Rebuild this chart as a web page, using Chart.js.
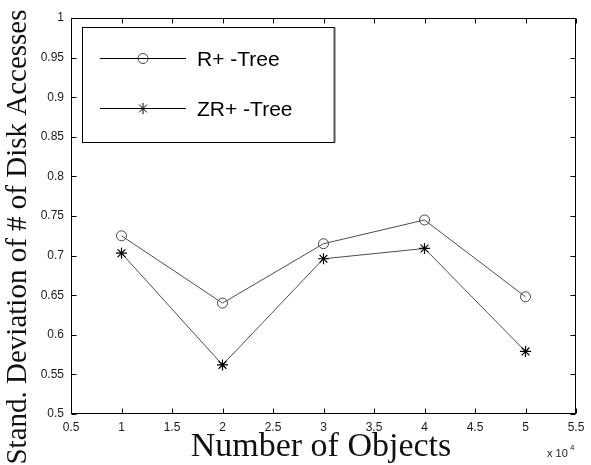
<!DOCTYPE html>
<html>
<head>
<meta charset="utf-8">
<script src="https://cdn.jsdelivr.net/npm/chart.js@4/dist/chart.umd.min.js"></script>
<style>
  html, body { margin: 0; padding: 0; background: #ffffff; }
  #wrap { width: 591px; height: 465px; }
</style>
</head>
<body>
<div id="wrap"><canvas id="c" width="591" height="465"></canvas></div>
<script>
// Number of objects, in units of 10^4
const objects = [1, 2, 3, 4, 5];
// Standard deviation of the number of disk accesses
const rPlusTree = [0.725, 0.640, 0.715, 0.745, 0.648];
const zrPlusTree = [0.703, 0.562, 0.696, 0.709, 0.579];

const seriesNames = ['R+ -Tree', 'ZR+ -Tree'];
const xTitle = 'Number of Objects';
const yTitle = 'Stand. Deviation of # of Disk Accesses';
const xRange = { min: 0.5, max: 5.5, step: 0.5 };
const yRange = { min: 0.5, max: 1.0, step: 0.05 };

const lineColor = '#4d4d4d';
const sansFont = '"Liberation Sans", Arial, sans-serif';
const serifFont = '"Liberation Serif", "Times New Roman", serif';

const toPoints = (xs, ys) => xs.map((x, i) => ({ x: x, y: ys[i] }));
const fmt = v => String(Number(v.toFixed(2)));

// Axes box with inward ticks on all four sides, legend, titles and exponent
const framePlugin = {
  id: 'frame',
  afterDraw(chart) {
    const ctx = chart.ctx;
    const a = chart.chartArea;
    const xs = chart.scales.x, ys = chart.scales.y;
    const L = Math.round(a.left) + 0.5, R = Math.round(a.right) - 0.5;
    const T = Math.round(a.top) + 0.5, B = Math.round(a.bottom) - 0.5;
    const tl = 5;
    ctx.save();
    ctx.strokeStyle = '#000';
    ctx.lineWidth = 1;
    ctx.strokeRect(L, T, R - L, B - T);
    ctx.beginPath();
    xs.ticks.forEach(t => {
      const px = Math.round(xs.getPixelForValue(t.value)) + 0.5;
      ctx.moveTo(px, B); ctx.lineTo(px, B - tl);
      ctx.moveTo(px, T); ctx.lineTo(px, T + tl);
    });
    ys.ticks.forEach(t => {
      const py = Math.round(ys.getPixelForValue(t.value)) + 0.5;
      ctx.moveTo(L, py); ctx.lineTo(L + tl, py);
      ctx.moveTo(R, py); ctx.lineTo(R - tl, py);
    });
    ctx.stroke();

    // Legend box
    const lx = 82.5, ly = 27.5, lw = 252, lh = 115;
    ctx.fillStyle = '#fff';
    ctx.fillRect(lx, ly, lw, lh);
    ctx.strokeStyle = '#000';
    ctx.strokeRect(lx, ly, lw, lh);
    ctx.strokeStyle = '#555';
    ctx.lineWidth = 2;
    ctx.beginPath(); ctx.moveTo(lx + lw, ly); ctx.lineTo(lx + lw, ly + lh); ctx.stroke();

    const rows = [58, 108];
    chart.data.datasets.forEach((ds, i) => {
      const y = rows[i] + 0.5;
      ctx.strokeStyle = '#000';
      ctx.lineWidth = 1;
      ctx.beginPath(); ctx.moveTo(100, y); ctx.lineTo(186, y); ctx.stroke();
      const opts = {
        pointStyle: ds.pointStyle, radius: ds.pointRadius, rotation: 0,
        borderWidth: 1
      };
      ctx.strokeStyle = ds.pointBorderColor;
      ctx.fillStyle = 'rgba(0,0,0,0)';
      if (Chart.helpers && Chart.helpers.drawPoint) {
        Chart.helpers.drawPoint(ctx, opts, 143, y);
      }
      ctx.fillStyle = '#000';
      ctx.font = '21px ' + sansFont;
      ctx.textBaseline = 'middle';
      ctx.textAlign = 'left';
      ctx.fillText(ds.label, 197, y + 2);
    });

    // Axis titles
    ctx.fillStyle = '#111';
    ctx.font = '34px ' + serifFont;
    ctx.textAlign = 'center';
    ctx.textBaseline = 'alphabetic';
    ctx.fillText(xTitle, 321, 456);

    ctx.save();
    ctx.translate(26, 237);
    ctx.rotate(-Math.PI / 2);
    ctx.font = '29px ' + serifFont;
    ctx.fillText(yTitle, 0, 0);
    ctx.restore();

    // Exponent of the x axis
    ctx.fillStyle = '#222';
    ctx.textAlign = 'left';
    ctx.font = '11px ' + sansFont;
    ctx.fillText('x 10', 547, 457);
    ctx.font = '8px ' + sansFont;
    ctx.fillText('4', 570, 450);
    ctx.restore();
  }
};

new Chart(document.getElementById('c'), {
  type: 'line',
  data: {
    datasets: [
      {
        label: seriesNames[0],
        data: toPoints(objects, rPlusTree),
        borderColor: lineColor,
        borderWidth: 1,
        pointStyle: 'circle',
        pointRadius: 5,
        pointBorderColor: '#444',
        pointBackgroundColor: 'rgba(0,0,0,0)',
        pointBorderWidth: 1,
        tension: 0
      },
      {
        label: seriesNames[1],
        data: toPoints(objects, zrPlusTree),
        borderColor: lineColor,
        borderWidth: 1,
        pointStyle: 'star',
        pointRadius: 5.5,
        pointBorderColor: '#000',
        pointBackgroundColor: 'rgba(0,0,0,0)',
        pointBorderWidth: 1.2,
        tension: 0
      }
    ]
  },
  options: {
    responsive: false,
    animation: false,
    devicePixelRatio: 1,
    layout: { padding: { top: 18, right: 15, left: 0, bottom: 0 } },
    plugins: { legend: { display: false }, tooltip: { enabled: false } },
    scales: {
      x: {
        type: 'linear',
        min: xRange.min, max: xRange.max,
        grid: { display: false, drawTicks: false },
        border: { display: false },
        ticks: {
          stepSize: xRange.step,
          padding: 6,
          color: '#1a1a1a',
          font: { family: sansFont, size: 12 },
          maxRotation: 0,
          autoSkip: false,
          callback: v => fmt(v)
        },
        afterFit(s) { s.height = 51; }
      },
      y: {
        min: yRange.min, max: yRange.max,
        grid: { display: false, drawTicks: false },
        border: { display: false },
        ticks: {
          stepSize: yRange.step,
          padding: 7,
          color: '#1a1a1a',
          font: { family: sansFont, size: 12 },
          autoSkip: false,
          callback: v => fmt(v)
        },
        afterFit(s) { s.width = 71; }
      }
    }
  },
  plugins: [framePlugin]
});
</script>
</body>
</html>
